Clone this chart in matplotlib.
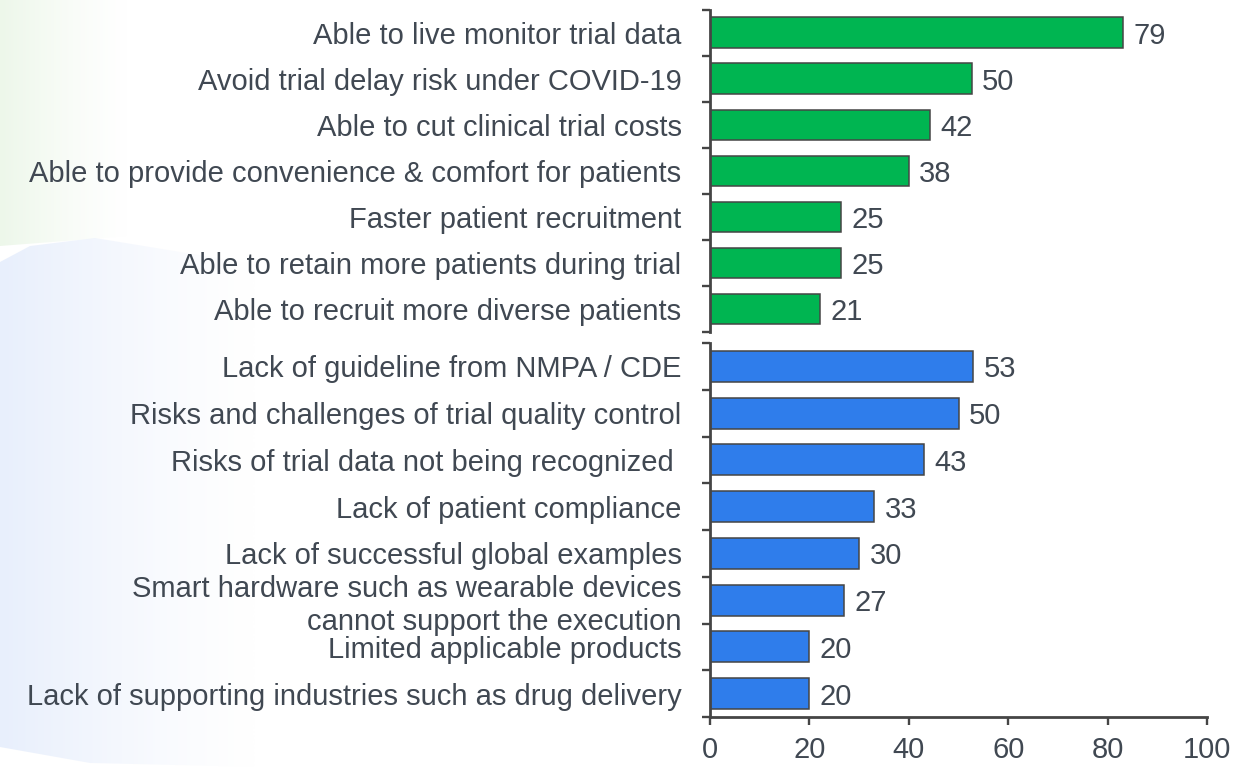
import numpy as np
import matplotlib
matplotlib.use("Agg")
import matplotlib.pyplot as plt
from matplotlib.patches import Polygon
from matplotlib.ticker import FixedLocator
from matplotlib.colors import LinearSegmentedColormap

# ---- data ----
green_labels = [
    "Able to live monitor trial data",
    "Avoid trial delay risk under COVID-19",
    "Able to cut clinical trial costs",
    "Able to provide convenience & comfort for patients",
    "Faster patient recruitment",
    "Able to retain more patients during trial",
    "Able to recruit more diverse patients",
]
green_values = [79, 50, 42, 38, 25, 25, 21]

blue_labels = [
    "Lack of guideline from NMPA / CDE",
    "Risks and challenges of trial quality control",
    "Risks of trial data not being recognized ",
    "Lack of patient compliance",
    "Lack of successful global examples",
    "Smart hardware such as wearable devices\ncannot support the execution",
    "Limited applicable products",
    "Lack of supporting industries such as drug delivery",
]
blue_values = [53, 50, 43, 33, 30, 27, 20, 20]

x_ticks = [0, 20, 40, 60, 80, 100]

# ---- style ----
plt.rcParams['font.family'] = ['Liberation Sans', 'DejaVu Sans']
TXT = '#404852'
SPINE = '#454545'
GREEN = '#00B551'
BLUE = '#2F7DEB'
FS = 21

W, H = 1255, 767
fig = plt.figure(figsize=(W / 100, H / 100), dpi=100)

# faint background shapes
bg = fig.add_axes([0, 0, 1, 1], zorder=-10)
bg.set_xlim(0, W)
bg.set_ylim(H, 0)
bg.axis('off')
grad = np.linspace(1, 0, 256).reshape(1, -1) ** 1.3

def grad_shape(verts, rgb, x0, x1, y0, y1, amax):
    cmap = LinearSegmentedColormap.from_list('g', [(rgb + (0,)), rgb + (amax,)])
    im = bg.imshow(grad, extent=[x0, x1, y1, y0], cmap=cmap, vmin=0, vmax=1,
                   aspect='auto', interpolation='bilinear', zorder=0)
    poly = Polygon(verts, closed=True, facecolor='none', edgecolor='none')
    bg.add_patch(poly)
    im.set_clip_path(poly)

grad_shape([(0, 0), (130, 0), (130, 236), (0, 246)], (0.93, 0.97, 0.92), 0, 130, 0, 246, 1.0)
grad_shape([(0, 262), (30, 246), (95, 238), (260, 265), (260, 767), (90, 763), (0, 747)],
           (0.91, 0.94, 0.99), 0, 260, 238, 767, 1.0)

left = 710 / W
width = 497 / W

def style_axis(ax, n):
    for s in ['top', 'right']:
        ax.spines[s].set_visible(False)
    ax.spines['left'].set_color(SPINE)
    ax.spines['left'].set_linewidth(2.0)
    ax.set_ylim(n - 0.5, -0.5)
    ax.yaxis.set_minor_locator(FixedLocator(np.arange(-0.5, n, 1.0)))
    ax.tick_params(axis='y', which='major', length=0, pad=20.5,
                   labelsize=FS, labelcolor=TXT)
    ax.tick_params(axis='y', which='minor', length=6, width=1.7,
                   color=SPINE, direction='out')

def add_labels(ax, bars, values):
    texts = ax.bar_label(bars, labels=[str(v) for v in values], padding=7.5,
                         fontsize=FS, color=TXT)
    for t in texts:
        t.set_va('center_baseline')

# green group
axg = fig.add_axes([left, 1 - 332 / H, width, (332 - 9.6) / H])
yg = np.arange(len(green_values))
bars_g = axg.barh(yg, green_values, height=0.66, color=GREEN,
                  edgecolor=SPINE, linewidth=1.1)
axg.set_xlim(0, 95)
style_axis(axg, len(green_values))
axg.set_yticks(yg)
axg.set_yticklabels(green_labels)
axg.spines['bottom'].set_visible(False)
axg.tick_params(axis='x', which='both', bottom=False, labelbottom=False)
add_labels(axg, bars_g, green_values)
axg.patch.set_alpha(0)

# blue group
axb = fig.add_axes([left, 1 - 717 / H, width, (717 - 343) / H])
yb = np.arange(len(blue_values))
bars_b = axb.barh(yb, blue_values, height=0.66, color=BLUE,
                  edgecolor=SPINE, linewidth=1.1)
axb.set_xlim(0, 100)
style_axis(axb, len(blue_values))
axb.set_yticks(yb)
axb.set_yticklabels(blue_labels, multialignment='right')
axb.spines['bottom'].set_color(SPINE)
axb.spines['bottom'].set_linewidth(2.0)
axb.set_xticks(x_ticks)
axb.set_xticklabels([str(t) for t in x_ticks])
axb.tick_params(axis='x', length=6, width=1.7, color=SPINE, pad=8,
                labelsize=FS, labelcolor=TXT)
add_labels(axb, bars_b, blue_values)
axb.patch.set_alpha(0)

fig.savefig('out.png', dpi=100)
